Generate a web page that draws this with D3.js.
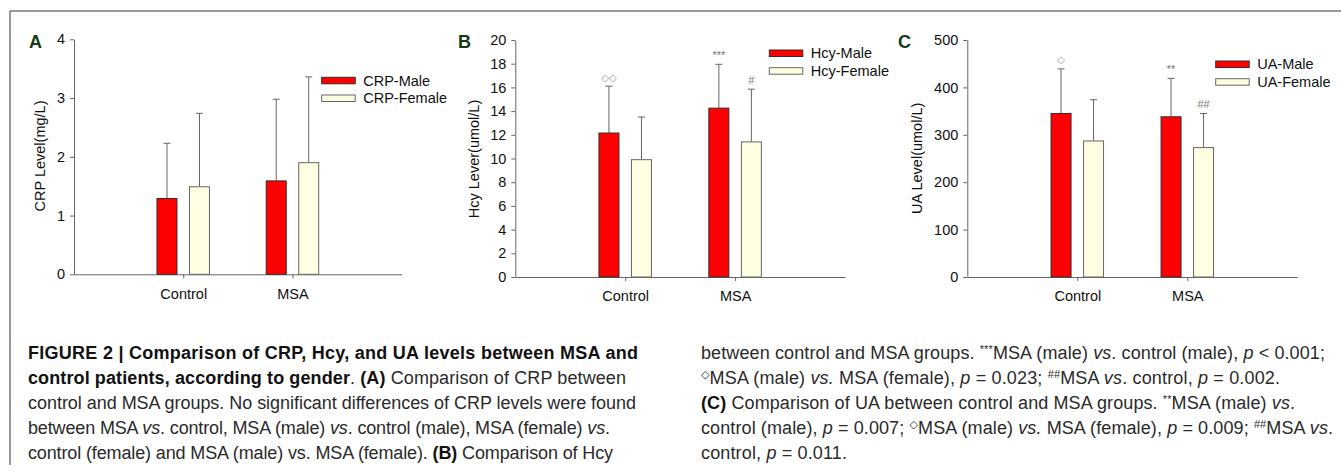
<!DOCTYPE html>
<html>
<head>
<meta charset="utf-8">
<script src="https://cdn.jsdelivr.net/npm/d3@7"></script>
<style>
  body { margin: 0; background: #fff; }
  svg { display: block; font-family: "Liberation Sans", Arial, sans-serif; }
</style>
</head>
<body>
<div id="chart"></div>
<script>
// categories
const groups = ["Control", "MSA"];
const sexes = ["Male", "Female"];

// CRP (mg/L): mean and upper SD
const crpMale = [1.29, 1.59];
const crpMaleSd = [0.94, 1.39];
const crpFemale = [1.49, 1.90];
const crpFemaleSd = [1.25, 1.46];

// Hcy (umol/L)
const hcyMale = [12.15, 14.25];
const hcyMaleSd = [3.95, 3.7];
const hcyFemale = [9.9, 11.4];
const hcyFemaleSd = [3.6, 4.45];
const hcyMaleMarks = ["\u25C7\u25C7", "***"];
const hcyFemaleMarks = ["", "#"];

// UA (umol/L)
const uaMale = [345, 338];
const uaMaleSd = [94, 81];
const uaFemale = [287, 273];
const uaFemaleSd = [87, 72];
const uaMaleMarks = ["\u25C7", "**"];
const uaFemaleMarks = ["", "##"];

// tick labels
const crpTicks = [0, 1, 2, 3, 4];
const hcyTicks = [0, 2, 4, 6, 8, 10, 12, 14, 16, 18, 20];
const uaTicks = [0, 100, 200, 300, 400, 500];

const width = 1341, height = 475;
const svg = d3.select("#chart").append("svg")
  .attr("width", width)
  .attr("height", height);

// figure frame (top + left rule)
svg.append("line").attr("x1", 10).attr("x2", width).attr("y1", 11).attr("y2", 11)
  .attr("stroke", "#777").attr("stroke-width", 1.5);
svg.append("line").attr("x1", 10).attr("x2", 10).attr("y1", 11).attr("y2", 465)
  .attr("stroke", "#777").attr("stroke-width", 1.5);

const fills = { Male: "#ff0000", Female: "#fffee3" };
const strokes = { Male: "#3a2a2a", Female: "#666" };

function drawPanel(p) {
  const g = svg.append("g");
  const x = d3.scalePoint().domain(groups).range([p.x0, p.x1]).padding(1);
  const inner = d3.scaleBand().domain(sexes).range([-26.25, 26.25]).paddingInner(0.385);
  const y = d3.scaleLinear().domain([0, p.max]).range([p.y0, p.y1]);

  const rows = [];
  groups.forEach((grp, i) => {
    rows.push({ grp, sex: "Male", v: p.male[i], sd: p.maleSd[i], mark: p.maleMarks ? p.maleMarks[i] : "" });
    rows.push({ grp, sex: "Female", v: p.female[i], sd: p.femaleSd[i], mark: p.femaleMarks ? p.femaleMarks[i] : "" });
  });

  // axes
  const yAxis = g.append("g")
    .attr("transform", `translate(${p.x0},0)`)
    .call(d3.axisLeft(y).tickValues(p.ticks).tickFormat(d3.format("d"))
      .tickSize(4).tickSizeOuter(0).tickPadding(5));
  const xAxis = g.append("g")
    .attr("transform", `translate(0,${p.y0})`)
    .call(d3.axisBottom(x).tickSize(4).tickSizeOuter(0).tickPadding(10));
  [yAxis, xAxis].forEach((a) => {
    a.selectAll("path, line").attr("stroke", "#666");
    a.selectAll("text").attr("fill", "#111").style("font-size", "14.5px")
      .style("font-family", "'Liberation Sans', Arial, sans-serif");
  });

  // error bars (upper only)
  const cx = (d) => x(d.grp) + inner(d.sex) + inner.bandwidth() / 2;
  g.append("g").selectAll("line.err").data(rows).enter().append("line")
    .attr("x1", cx).attr("x2", cx)
    .attr("y1", (d) => y(d.v)).attr("y2", (d) => y(d.v + d.sd))
    .attr("stroke", "#666").attr("stroke-width", 1);
  g.append("g").selectAll("line.cap").data(rows).enter().append("line")
    .attr("x1", (d) => cx(d) - 3.5).attr("x2", (d) => cx(d) + 3.5)
    .attr("y1", (d) => y(d.v + d.sd)).attr("y2", (d) => y(d.v + d.sd))
    .attr("stroke", "#666").attr("stroke-width", 1);

  // bars
  g.append("g").selectAll("rect").data(rows).enter().append("rect")
    .attr("x", (d) => x(d.grp) + inner(d.sex))
    .attr("y", (d) => y(d.v))
    .attr("width", inner.bandwidth())
    .attr("height", (d) => y(0) - y(d.v))
    .attr("fill", (d) => fills[d.sex])
    .attr("stroke", (d) => strokes[d.sex])
    .attr("stroke-width", 1);

  // significance marks
  const isDiamond = (d) => d.mark.indexOf("\u25C7") >= 0;
  g.append("g").selectAll("text").data(rows.filter((d) => d.mark)).enter().append("text")
    .attr("x", cx)
    .attr("y", (d) => y(d.v + d.sd) - 9)
    .attr("text-anchor", "middle")
    .attr("dominant-baseline", "central")
    .attr("fill", (d) => isDiamond(d) ? "#999" : "#6f7d6f")
    .style("font-family", (d) => isDiamond(d) ? "'DejaVu Sans', sans-serif" : "'Liberation Sans', Arial, sans-serif")
    .style("font-size", (d) => isDiamond(d) ? "10px" : "11px")
    .text((d) => d.mark);

  // y title
  g.append("text")
    .attr("transform", `translate(${p.titleX},${p.titleY}) rotate(-90)`)
    .attr("text-anchor", "middle")
    .attr("dominant-baseline", "central")
    .attr("fill", "#111")
    .style("font-size", "14.5px")
    .text(p.title);

  // panel letter
  g.append("text")
    .attr("x", p.letterX).attr("y", 48)
    .attr("fill", "#163816")
    .style("font-size", "18px").style("font-weight", "bold")
    .text(p.letter);

  // legend
  const leg = g.append("g").attr("transform", `translate(${p.legX},${p.legY})`);
  sexes.forEach((s, i) => {
    leg.append("rect")
      .attr("x", 0).attr("y", i * 17.7)
      .attr("width", 33.5).attr("height", 6.5)
      .attr("fill", fills[s]).attr("stroke", strokes[s]).attr("stroke-width", 1);
    leg.append("text")
      .attr("x", 41.5).attr("y", i * 17.7 + 3.3)
      .attr("dominant-baseline", "central")
      .attr("fill", "#111")
      .style("font-size", "14.5px")
      .text(`${p.name}-${s}`);
  });
}

drawPanel({
  letter: "A", letterX: 29, name: "CRP", title: "CRP Level(mg/L)", titleX: 39.5, titleY: 156,
  x0: 74, x1: 401.7, y0: 274.3, y1: 39.3, max: 4, ticks: crpTicks,
  male: crpMale, maleSd: crpMaleSd, female: crpFemale, femaleSd: crpFemaleSd,
  legX: 321.7, legY: 77.3
});
drawPanel({
  letter: "B", letterX: 458, name: "Hcy", title: "Hcy Lever(umol/L)", titleX: 473.5, titleY: 159,
  x0: 515.3, x1: 845, y0: 277, y1: 40, max: 20, ticks: hcyTicks,
  male: hcyMale, maleSd: hcyMaleSd, female: hcyFemale, femaleSd: hcyFemaleSd,
  maleMarks: hcyMaleMarks, femaleMarks: hcyFemaleMarks,
  legX: 769.3, legY: 50
});
drawPanel({
  letter: "C", letterX: 898, name: "UA", title: "UA Level(umol/L)", titleX: 916.7, titleY: 158.3,
  x0: 967.3, x1: 1297.3, y0: 277, y1: 40, max: 500, ticks: uaTicks,
  male: uaMale, maleSd: uaMaleSd, female: uaFemale, femaleSd: uaFemaleSd,
  maleMarks: uaMaleMarks, femaleMarks: uaFemaleMarks,
  legX: 1215.7, legY: 61
});

// caption: each line is a list of [style, text]; b bold, i italic, s superscript, n normal
const captionLeft = [
  [["b", "FIGURE 2 | Comparison of CRP, Hcy, and UA levels between MSA and"]],
  [["b", "control patients, according to gender"], ["n", ". "], ["b", "(A)"], ["n", " Comparison of CRP between"]],
  [["n", "control and MSA groups. No significant differences of CRP levels were found"]],
  [["n", "between MSA "], ["i", "vs"], ["n", ". control, MSA (male) "], ["i", "vs"], ["n", ". control (male), MSA (female) "], ["i", "vs"], ["n", "."]],
  [["n", "control (female) and MSA (male) vs. MSA (female). "], ["b", "(B)"], ["n", " Comparison of Hcy"]]
];
const captionLeftEnds = [638, 626, 636, 610, 613];
const captionRight = [
  [["n", "between control and MSA groups. "], ["s", "***"], ["n", "MSA (male) "], ["i", "vs"], ["n", ". control (male), "], ["i", "p"], ["n", " < 0.001;"]],
  [["s", "\u25C7"], ["n", "MSA (male) "], ["i", "vs."], ["n", " MSA (female), "], ["i", "p"], ["n", " = 0.023; "], ["s", "##"], ["n", "MSA "], ["i", "vs"], ["n", ". control, "], ["i", "p"], ["n", " = 0.002."]],
  [["b", "(C)"], ["n", " Comparison of UA between control and MSA groups. "], ["s", "**"], ["n", "MSA (male) "], ["i", "vs"], ["n", "."]],
  [["n", "control (male), "], ["i", "p"], ["n", " = 0.007; "], ["s", "\u25C7"], ["n", "MSA (male) "], ["i", "vs."], ["n", " MSA (female), "], ["i", "p"], ["n", " = 0.009; "], ["s", "##"], ["n", "MSA "], ["i", "vs"], ["n", "."]],
  [["n", "control, "], ["i", "p"], ["n", " = 0.011."]]
];
const captionRightEnds = [1325, 1280, 1295, 1333, 847];

function drawCaption(lines, ends, x0) {
  lines.forEach((segs, i) => {
    const t = svg.append("text")
      .attr("x", x0).attr("y", 358.5 + i * 25)
      .attr("fill", "#2a2a2a")
      .style("font-size", "18px");
    segs.forEach(([st, txt]) => {
      const ts = t.append("tspan").text(txt);
      if (st === "b") ts.style("font-weight", "bold").attr("fill", "#111");
      if (st === "i") ts.style("font-style", "italic");
      if (st === "s") {
        ts.attr("baseline-shift", "super").style("font-size", "11px");
        if (txt === "\u25C7") ts.style("font-family", "'DejaVu Sans', sans-serif");
      }
    });
    // stretch each line to the width measured on the reference
    const w = t.node().getComputedTextLength();
    const target = ends[i] - x0;
    if (Math.abs(target - w) > 1) {
      t.attr("textLength", target).attr("lengthAdjust", "spacing");
    }
  });
}
drawCaption(captionLeft, captionLeftEnds, 28);
drawCaption(captionRight, captionRightEnds, 701);
</script>
</body>
</html>
